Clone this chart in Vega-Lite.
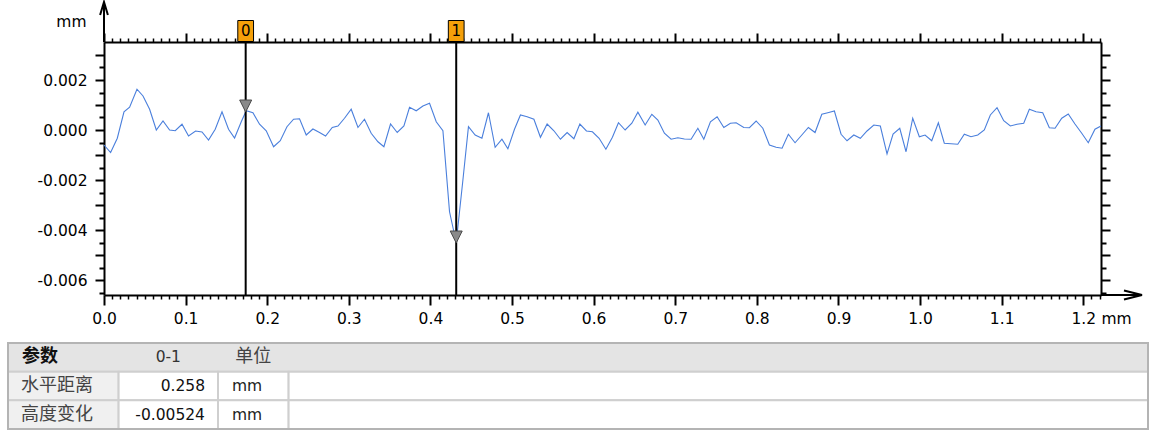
{
"$schema": "https://vega.github.io/schema/vega-lite/v6.json",
"padding": {"left": 7, "top": -2, "right": 5, "bottom": 5},
"spacing": 15,
"config": {"view": {"stroke": null}, "font": "DejaVu Sans"},
"datasets": {
"profile": [
{"x":0.0,"z":-0.0006},{"x":0.0081,"z":-0.0009},{"x":0.0163,"z":-0.00033},{"x":0.0245,"z":0.00073},{"x":0.0314,"z":0.00091},{"x":0.0404,"z":0.00163},{"x":0.0478,"z":0.00136},{"x":0.0559,"z":0.00083},{"x":0.0641,"z":0.0},{"x":0.0723,"z":0.00036},{"x":0.0804,"z":0.0},{"x":0.0873,"z":-0.00003},{"x":0.0956,"z":0.00023},{"x":0.1036,"z":-0.00024},{"x":0.1122,"z":-0.00004},{"x":0.1201,"z":-0.00008},{"x":0.1281,"z":-0.0004},{"x":0.1363,"z":0.00003},{"x":0.1446,"z":0.00073},{"x":0.1526,"z":0.00003},{"x":0.16,"z":-0.00032},{"x":0.1682,"z":0.00033},{"x":0.1743,"z":0.00077},{"x":0.1825,"z":0.00069},{"x":0.1906,"z":0.00023},{"x":0.1988,"z":-0.00003},{"x":0.2078,"z":-0.00067},{"x":0.216,"z":-0.00043},{"x":0.2242,"z":0.00013},{"x":0.2323,"z":0.00043},{"x":0.2396,"z":0.00045},{"x":0.2478,"z":-0.0002},{"x":0.256,"z":0.00004},{"x":0.2641,"z":-0.0001},{"x":0.2715,"z":-0.00024},{"x":0.2797,"z":0.0001},{"x":0.2867,"z":0.00016},{"x":0.2947,"z":0.00047},{"x":0.3029,"z":0.00083},{"x":0.3112,"z":0.0001},{"x":0.3192,"z":0.00043},{"x":0.3274,"z":-0.00013},{"x":0.3357,"z":-0.00047},{"x":0.343,"z":-0.00067},{"x":0.3511,"z":0.00024},{"x":0.3593,"z":-0.0001},{"x":0.3675,"z":0.00016},{"x":0.3744,"z":0.00091},{"x":0.3826,"z":0.00077},{"x":0.3908,"z":0.00096},{"x":0.3989,"z":0.00107},{"x":0.4071,"z":0.00033},{"x":0.4153,"z":-0.00003},{"x":0.4234,"z":-0.00327},{"x":0.4316,"z":-0.0045},{"x":0.4398,"z":-0.002},{"x":0.4466,"z":0.00013},{"x":0.4548,"z":-0.0002},{"x":0.4631,"z":-0.00033},{"x":0.4711,"z":0.00069},{"x":0.4793,"z":-0.00069},{"x":0.4876,"z":-0.00037},{"x":0.4949,"z":-0.00075},{"x":0.503,"z":0.00003},{"x":0.5103,"z":0.0006},{"x":0.5185,"z":0.00053},{"x":0.5268,"z":0.00043},{"x":0.5348,"z":-0.00029},{"x":0.543,"z":0.00024},{"x":0.5513,"z":-0.00003},{"x":0.5593,"z":-0.00037},{"x":0.5675,"z":-0.0001},{"x":0.5758,"z":-0.00035},{"x":0.5831,"z":0.00024},{"x":0.5912,"z":-0.00004},{"x":0.5985,"z":-0.00007},{"x":0.6067,"z":-0.00033},{"x":0.615,"z":-0.00077},{"x":0.623,"z":-0.00029},{"x":0.6304,"z":0.00029},{"x":0.6386,"z":0.0},{"x":0.6468,"z":0.00027},{"x":0.6542,"z":0.00071},{"x":0.6631,"z":0.0002},{"x":0.6713,"z":0.00063},{"x":0.6787,"z":0.0004},{"x":0.6867,"z":-0.00013},{"x":0.6949,"z":-0.00037},{"x":0.7032,"z":-0.00031},{"x":0.7112,"z":-0.00036},{"x":0.7194,"z":-0.00037},{"x":0.7277,"z":0.00007},{"x":0.735,"z":-0.00037},{"x":0.7431,"z":0.00033},{"x":0.7513,"z":0.00053},{"x":0.7595,"z":0.0001},{"x":0.7676,"z":0.00027},{"x":0.7746,"z":0.00029},{"x":0.784,"z":0.0001},{"x":0.7909,"z":0.00009},{"x":0.7991,"z":0.00036},{"x":0.8073,"z":0.00007},{"x":0.8154,"z":-0.0006},{"x":0.8236,"z":-0.00069},{"x":0.8309,"z":-0.00073},{"x":0.8386,"z":-0.00017},{"x":0.8468,"z":-0.00051},{"x":0.8551,"z":-0.0002},{"x":0.8631,"z":0.0001},{"x":0.8713,"z":-0.0001},{"x":0.8796,"z":0.00063},{"x":0.8869,"z":0.00069},{"x":0.895,"z":0.00076},{"x":0.9032,"z":-0.00017},{"x":0.9105,"z":-0.00043},{"x":0.9188,"z":-0.0002},{"x":0.9268,"z":-0.00033},{"x":0.935,"z":-0.00004},{"x":0.9433,"z":0.0002},{"x":0.9513,"z":0.00016},{"x":0.9595,"z":-0.00096},{"x":0.9669,"z":-0.00016},{"x":0.9751,"z":0.00007},{"x":0.9828,"z":-0.00087},{"x":0.991,"z":0.00047},{"x":0.9991,"z":-0.00027},{"x":1.0061,"z":-0.0002},{"x":1.0143,"z":-0.00043},{"x":1.0224,"z":0.00029},{"x":1.0297,"z":-0.00053},{"x":1.0379,"z":-0.00055},{"x":1.0462,"z":-0.00057},{"x":1.0542,"z":-0.00017},{"x":1.0624,"z":-0.00027},{"x":1.0707,"z":-0.0002},{"x":1.0787,"z":0.0},{"x":1.0861,"z":0.0006},{"x":1.0943,"z":0.00089},{"x":1.1025,"z":0.00037},{"x":1.1106,"z":0.00016},{"x":1.1188,"z":0.00023},{"x":1.127,"z":0.00027},{"x":1.1339,"z":0.00083},{"x":1.1421,"z":0.00073},{"x":1.1503,"z":0.00069},{"x":1.1584,"z":0.00009},{"x":1.1654,"z":0.00007},{"x":1.1736,"z":0.00047},{"x":1.1816,"z":0.00064},{"x":1.1898,"z":0.00024},{"x":1.1981,"z":-0.00013},{"x":1.2061,"z":-0.00051},{"x":1.2143,"z":0.00003},{"x":1.2217,"z":0.00016}
],
"cursors": [{"id":"0","x":0.1736,"z":0.00072},{"id":"1","x":0.4316,"z":-0.00452}],
"cells": [
{"r":"h","c":0,"c2":4,"kind":"header"},
{"r":"a","c":0,"c2":1,"kind":"name"},{"r":"a","c":1,"c2":2,"kind":"cell"},{"r":"a","c":2,"c2":3,"kind":"cell"},{"r":"a","c":3,"c2":4,"kind":"cell"},
{"r":"b","c":0,"c2":1,"kind":"name"},{"r":"b","c":1,"c2":2,"kind":"cell"},{"r":"b","c":2,"c2":3,"kind":"cell"},{"r":"b","c":3,"c2":4,"kind":"cell"}
],
"texts": [
{"r":"h","c":0,"t":"参数"},{"r":"h","c":1,"t":"0-1"},{"r":"h","c":2,"t":"单位"},
{"r":"a","c":0,"t":"水平距离"},{"r":"a","c":1,"t":"0.258"},{"r":"a","c":2,"t":"mm"},
{"r":"b","c":0,"t":"高度变化"},{"r":"b","c":1,"t":"-0.00524"},{"r":"b","c":2,"t":"mm"}
]
},
"vconcat": [
{
"width": 997, "height": 253,
"layer": [
{
"data": {"name": "profile"},
"mark": {"type": "line", "color": "#4a7fdc", "strokeWidth": 1.1},
"encoding": {
"x": {"field": "x", "type": "quantitative", "scale": {"domain": [0, 1.2217], "nice": false, "zero": false},
 "axis": {"orient": "bottom", "values": [0,0.01,0.02,0.03,0.04,0.05,0.06,0.07,0.08,0.09,0.1,0.11,0.12,0.13,0.14,0.15,0.16,0.17,0.18,0.19,0.2,0.21,0.22,0.23,0.24,0.25,0.26,0.27,0.28,0.29,0.3,0.31,0.32,0.33,0.34,0.35,0.36,0.37,0.38,0.39,0.4,0.41,0.42,0.43,0.44,0.45,0.46,0.47,0.48,0.49,0.5,0.51,0.52,0.53,0.54,0.55,0.56,0.57,0.58,0.59,0.6,0.61,0.62,0.63,0.64,0.65,0.66,0.67,0.68,0.69,0.7,0.71,0.72,0.73,0.74,0.75,0.76,0.77,0.78,0.79,0.8,0.81,0.82,0.83,0.84,0.85,0.86,0.87,0.88,0.89,0.9,0.91,0.92,0.93,0.94,0.95,0.96,0.97,0.98,0.99,1.0,1.01,1.02,1.03,1.04,1.05,1.06,1.07,1.08,1.09,1.1,1.11,1.12,1.13,1.14,1.15,1.16,1.17,1.18,1.19,1.2,1.21,1.22],
  "labelExpr": "abs(datum.value*10 - round(datum.value*10)) < 0.000001 ? format(datum.value, '.1f') : ''",
  "labelFontSize": 15.5, "labelColor": "black", "labelPadding": 6, "labelFlush": false, "labelOverlap": false,
  "title": "mm", "titleAngle": 0, "titleX": 997, "titleY": 16, "titleAlign": "left", "titleBaseline": "top", "titleFontSize": 15.5, "titleFontWeight": "normal", "titleColor": "black",
  "domainColor": "black", "domainWidth": 2, "tickColor": "black",
  "tickWidth": {"condition": {"test": "abs(datum.value*10 - round(datum.value*10)) < 0.000001", "value": 2}, "value": 1.5},
  "tickSize": {"condition": {"test": "abs(datum.value*10 - round(datum.value*10)) < 0.000001", "value": 10}, "value": 4},
  "grid": false}},
"y": {"field": "z", "type": "quantitative", "scale": {"domain": [-0.0066, 0.00352], "nice": false, "zero": false},
 "axis": {"orient": "left", "values": [-0.0065,-0.006,-0.0055,-0.005,-0.0045,-0.004,-0.0035,-0.003,-0.0025,-0.002,-0.0015,-0.001,-0.0005,0,0.0005,0.001,0.0015,0.002,0.0025,0.003],
  "labelExpr": "abs(datum.value*500 - round(datum.value*500)) < 0.000001 ? replace(format(datum.value, '.3f'), '\u2212', '-') : ''",
  "labelFontSize": 15.5, "labelColor": "black", "labelPadding": 8, "labelFlush": false, "labelOverlap": false,
  "title": "mm", "titleAngle": 0, "titleX": -18, "titleY": -21, "titleAlign": "right", "titleBaseline": "middle", "titleFontSize": 15.5, "titleFontWeight": "normal", "titleColor": "black",
  "domainColor": "black", "domainWidth": 2, "tickColor": "black", "tickWidth": 2,
  "tickSize": {"condition": {"test": "abs(datum.value*1000 - round(datum.value*1000)) < 0.000001", "value": 9}, "value": 5},
  "grid": false, "minExtent": 96, "maxExtent": 96}}
}
},
{
"data": {"name": "cursors"},
"mark": {"type": "rule", "color": "black", "strokeWidth": 2},
"encoding": {
"x": {"field": "x", "type": "quantitative", "scale": {"domain": [0, 1.2217], "nice": false, "zero": false},
 "axis": {"orient": "top", "values": [0,0.01,0.02,0.03,0.04,0.05,0.06,0.07,0.08,0.09,0.1,0.11,0.12,0.13,0.14,0.15,0.16,0.17,0.18,0.19,0.2,0.21,0.22,0.23,0.24,0.25,0.26,0.27,0.28,0.29,0.3,0.31,0.32,0.33,0.34,0.35,0.36,0.37,0.38,0.39,0.4,0.41,0.42,0.43,0.44,0.45,0.46,0.47,0.48,0.49,0.5,0.51,0.52,0.53,0.54,0.55,0.56,0.57,0.58,0.59,0.6,0.61,0.62,0.63,0.64,0.65,0.66,0.67,0.68,0.69,0.7,0.71,0.72,0.73,0.74,0.75,0.76,0.77,0.78,0.79,0.8,0.81,0.82,0.83,0.84,0.85,0.86,0.87,0.88,0.89,0.9,0.91,0.92,0.93,0.94,0.95,0.96,0.97,0.98,0.99,1.0,1.01,1.02,1.03,1.04,1.05,1.06,1.07,1.08,1.09,1.1,1.11,1.12,1.13,1.14,1.15,1.16,1.17,1.18,1.19,1.2,1.21,1.22],
  "labels": false, "title": null,
  "domainColor": "black", "domainWidth": 2, "tickColor": "black",
  "tickWidth": {"condition": {"test": "abs(datum.value*10 - round(datum.value*10)) < 0.000001", "value": 2}, "value": 1.5},
  "tickSize": {"condition": {"test": "abs(datum.value*10 - round(datum.value*10)) < 0.000001", "value": 9}, "value": 4},
  "grid": false}}
}
},
{
"data": {"name": "cursors"},
"mark": {"type": "point", "shape": "M-1,-2L1,-2L0,0Z", "size": 144, "filled": true, "color": "#8a8a8a", "stroke": "#4a4a4a", "strokeWidth": 1, "opacity": 1},
"encoding": {
"x": {"field": "x", "type": "quantitative", "axis": null},
"y": {"field": "z", "type": "quantitative", "scale": {"domain": [-0.0066, 0.00352], "nice": false, "zero": false},
 "axis": {"orient": "right", "values": [-0.0065,-0.006,-0.0055,-0.005,-0.0045,-0.004,-0.0035,-0.003,-0.0025,-0.002,-0.0015,-0.001,-0.0005,0,0.0005,0.001,0.0015,0.002,0.0025,0.003],
  "labels": false, "title": null,
  "domainColor": "black", "domainWidth": 2, "tickColor": "black", "tickWidth": 2,
  "tickSize": {"condition": {"test": "abs(datum.value*1000 - round(datum.value*1000)) < 0.000001", "value": 9}, "value": 5},
  "grid": false}}
}
},
{
"data": {"name": "cursors"},
"mark": {"type": "point", "shape": "M-0.75,-1L0.75,-1L0.75,1L-0.75,1Z", "size": 441, "filled": true, "color": "#f5a00a", "stroke": "black", "strokeWidth": 1, "opacity": 1, "yOffset": -11},
"encoding": {
"x": {"field": "x", "type": "quantitative", "axis": null},
"y": {"datum": 0.00352, "type": "quantitative", "axis": null}
}
},
{
"data": {"name": "cursors"},
"mark": {"type": "text", "yOffset": -11, "fontSize": 15, "color": "black", "baseline": "middle", "align": "center", "font": "DejaVu Sans"},
"encoding": {
"x": {"field": "x", "type": "quantitative", "axis": null},
"y": {"datum": 0.00352, "type": "quantitative", "axis": null},
"text": {"field": "id"}
}
},
{
"data": {"values": [{}]},
"mark": {"type": "rule", "color": "black", "strokeWidth": 2},
"encoding": {
"x": {"datum": 0, "type": "quantitative", "axis": null},
"y": {"datum": 0.00352, "type": "quantitative", "axis": null},
"y2": {"datum": 0.00512}
}
},
{
"data": {"values": [{}]},
"mark": {"type": "rule", "color": "black", "strokeWidth": 2},
"encoding": {
"x": {"datum": 1.2217, "type": "quantitative", "axis": null},
"x2": {"datum": 1.2719},
"y": {"datum": -0.0066, "type": "quantitative", "axis": null}
}
},
{
"data": {"values": [{}]},
"mark": {"type": "point", "shape": "M-0.6,2L0,0L0.6,2", "size": 169, "filled": false, "color": "black", "strokeWidth": 2, "opacity": 1},
"encoding": {
"x": {"datum": 0, "type": "quantitative", "axis": null},
"y": {"datum": 0.00512, "type": "quantitative", "axis": null}
}
},
{
"data": {"values": [{}]},
"mark": {"type": "point", "shape": "M-2,-0.5L0,0L-2,0.5", "size": 324, "filled": false, "color": "black", "strokeWidth": 2, "opacity": 1},
"encoding": {
"x": {"datum": 1.2719, "type": "quantitative", "axis": null},
"y": {"datum": -0.0066, "type": "quantitative", "axis": null}
}
}
]
},
{
"width": 1044, "height": 86,
"layer": [
{
"data": {"name": "cells"},
"mark": {"type": "rect", "stroke": "#cfcfcf", "strokeWidth": 2},
"encoding": {
"x": {"field": "c", "type": "quantitative", "scale": {"domain": [0, 1, 2, 3, 4], "range": [-96, 14.6, 114, 184.6, 1044], "nice": false, "zero": false}, "axis": null},
"x2": {"field": "c2"},
"y": {"field": "r", "type": "nominal", "scale": {"domain": ["h", "a", "b"], "paddingInner": 0, "paddingOuter": 0}, "axis": null},
"fill": {"field": "kind", "type": "nominal", "scale": {"domain": ["header", "name", "cell"], "range": ["#e4e4e4", "#f0f0f0", "#ffffff"]}, "legend": null}
}
},
{
"data": {"values": [{}]},
"mark": {"type": "rect", "fill": null, "fillOpacity": 0, "stroke": "#b4b4b4", "strokeWidth": 2},
"encoding": {
"x": {"datum": 0, "type": "quantitative", "axis": null},
"x2": {"datum": 4}
}
},
{
"data": {"name": "texts"},
"transform": [{"filter": "datum.r == 'h' && datum.c == 0"}],
"mark": {"type": "text", "align": "left", "baseline": "middle", "dx": 14, "font": "Noto Sans CJK SC", "fontWeight": "bold", "fontSize": 18, "color": "#111111"},
"encoding": {"x": {"field": "c", "type": "quantitative", "axis": null}, "y": {"field": "r", "type": "nominal", "axis": null}, "text": {"field": "t"}}
},
{
"data": {"name": "texts"},
"transform": [{"filter": "datum.r == 'h' && datum.c == 1"}],
"mark": {"type": "text", "align": "center", "baseline": "middle", "dx": 49.7, "font": "DejaVu Sans", "fontSize": 15.5, "color": "#333333"},
"encoding": {"x": {"field": "c", "type": "quantitative", "axis": null}, "y": {"field": "r", "type": "nominal", "axis": null}, "text": {"field": "t"}}
},
{
"data": {"name": "texts"},
"transform": [{"filter": "datum.r == 'h' && datum.c == 2"}],
"mark": {"type": "text", "align": "center", "baseline": "middle", "dx": 35.3, "font": "Noto Sans CJK SC", "fontSize": 18, "color": "#444444"},
"encoding": {"x": {"field": "c", "type": "quantitative", "axis": null}, "y": {"field": "r", "type": "nominal", "axis": null}, "text": {"field": "t"}}
},
{
"data": {"name": "texts"},
"transform": [{"filter": "datum.r != 'h' && datum.c == 0"}],
"mark": {"type": "text", "align": "left", "baseline": "middle", "dx": 13, "font": "Noto Sans CJK SC", "fontSize": 18, "color": "#444444"},
"encoding": {"x": {"field": "c", "type": "quantitative", "axis": null}, "y": {"field": "r", "type": "nominal", "axis": null}, "text": {"field": "t"}}
},
{
"data": {"name": "texts"},
"transform": [{"filter": "datum.r != 'h' && datum.c == 1"}],
"mark": {"type": "text", "align": "right", "baseline": "middle", "dx": 86.4, "font": "DejaVu Sans", "fontSize": 15.5, "color": "#111111"},
"encoding": {"x": {"field": "c", "type": "quantitative", "axis": null}, "y": {"field": "r", "type": "nominal", "axis": null}, "text": {"field": "t"}}
},
{
"data": {"name": "texts"},
"transform": [{"filter": "datum.r != 'h' && datum.c == 2"}],
"mark": {"type": "text", "align": "left", "baseline": "middle", "dx": 14, "font": "DejaVu Sans", "fontSize": 15.5, "color": "#222222"},
"encoding": {"x": {"field": "c", "type": "quantitative", "axis": null}, "y": {"field": "r", "type": "nominal", "axis": null}, "text": {"field": "t"}}
}
]
}
]
}
